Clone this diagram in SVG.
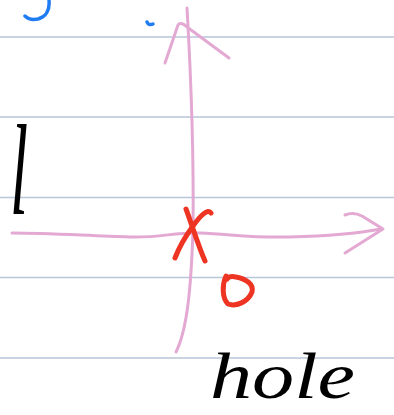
<svg xmlns="http://www.w3.org/2000/svg" width="394" height="415" viewBox="0 0 394 415">
<style>
.rule{stroke:#b9c5d9;stroke-width:1.3;fill:none}
.pink{stroke:#e3a9d3;stroke-width:3;fill:none;stroke-linecap:round;stroke-linejoin:round}
.red{stroke:#ee3524;stroke-width:5;fill:none;stroke-linecap:round;stroke-linejoin:round}
.blue{stroke:#1f7cf2;stroke-width:3.5;fill:none;stroke-linecap:round}
.hand{font-family:"Liberation Serif",serif;font-style:italic;fill:#000}
</style>
<rect width="394" height="415" fill="#fff"/>
<g id="ruled-lines">
<line class="rule" x1="0" y1="37" x2="394" y2="37"/>
<line class="rule" x1="0" y1="117" x2="394" y2="117"/>
<line class="rule" x1="0" y1="197.5" x2="394" y2="197.5"/>
<line class="rule" x1="0" y1="277.5" x2="394" y2="277.5"/>
<line class="rule" x1="0" y1="358" x2="394" y2="358"/>
</g>
<g id="blue-marks">
<path class="blue" d="M49,0 C50,10 46,17 38,19 C33,20 28,19 25,16"/>
<path class="blue" d="M147,22 C148,25 151,25 153,24"/>
</g>
<g id="connectors">
<path class="pink" d="M187,8 C190,60 194,150 193,230 C191,290 187,330 176,352"/>
<path class="pink" d="M165,63 L178,25 C180,22 184,24 187,27 L229,58"/>
<path class="pink" d="M12,233 C50,233 90,236 130,237 C160,238 175,232 200,233 C230,234 250,238 290,237 C330,236 360,233 381,229"/>
<path class="pink" d="M345,215 C350,213 356,213 362,216 L383,229 L345,253"/>
</g>
<g id="origin-marks">
<path class="red" d="M186,209 C192,225 198,245 205,261"/>
<path class="red" d="M211,213 C208,208 200,216 193,226 C185,237 178,250 175,258"/>
<path class="red" d="M226,276 C222,285 222,298 228,304 C236,307 248,302 252,292 C254,284 246,279 236,277 C232,276 229,276 227,279"/>
</g>
<g id="labels">
<text class="hand" x="20" y="214" font-size="130" transform="scale(0.5,1)">l</text>
<text class="hand" x="210" y="398" font-size="66" textLength="145" lengthAdjust="spacingAndGlyphs">hole</text>
</g>
</svg>
